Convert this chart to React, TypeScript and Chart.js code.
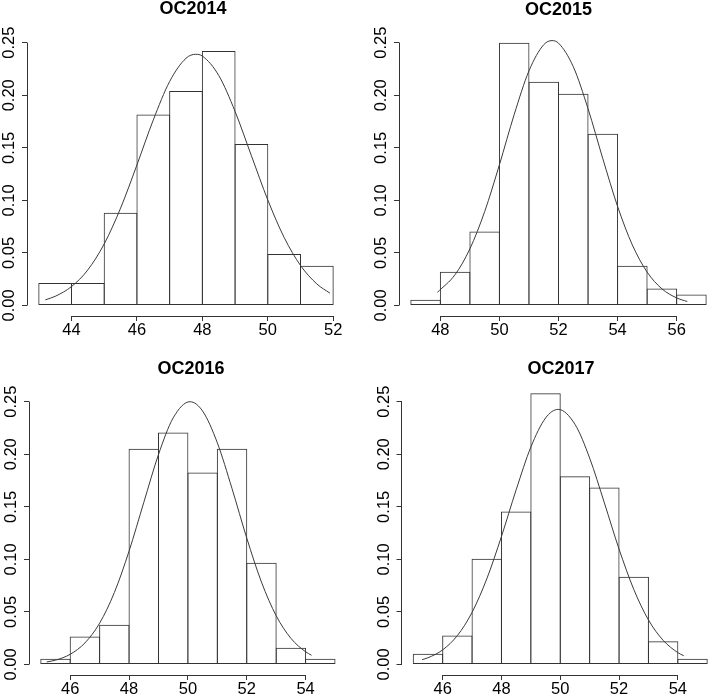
import React, { useEffect, useRef } from "react";
import { Chart, registerables } from "chart.js";

Chart.register(...registerables);

const FONT = "'Liberation Sans', Arial, Helvetica, sans-serif";
const AXIS_COLOR = "#333333";
const BAR_COLOR = "#333333";
const CURVE_COLOR = "#3a3a3a";

// ---- shared y axis ----
const yTicks = [0, 0.05, 0.1, 0.15, 0.2, 0.25];
const yTickLabels = ["0.00", "0.05", "0.10", "0.15", "0.20", "0.25"];

// ---- OC2014 ----
const oc2014Breaks = [43, 44, 45, 46, 47, 48, 49, 50, 51, 52];
const oc2014Density = [0.0213, 0.0213, 0.0883, 0.1817, 0.204, 0.242, 0.1537, 0.049, 0.0378];
const oc2014CurveX = [43.2, 43.5, 44, 44.5, 45, 45.5, 46, 46.5, 47, 47.5, 47.8, 48, 48.5, 49, 49.5, 50, 50.5, 51, 51.5, 51.9];
const oc2014CurveY = [0.0054, 0.0087, 0.018, 0.0339, 0.0586, 0.0926, 0.1337, 0.1765, 0.2131, 0.2352, 0.239, 0.2373, 0.2189, 0.1846, 0.1424, 0.1004, 0.0647, 0.0381, 0.0205, 0.0117];
const oc2014XTicks = [44, 46, 48, 50, 52];

// ---- OC2015 ----
const oc2015Breaks = [47, 48, 49, 50, 51, 52, 53, 54, 55, 56, 57];
const oc2015Density = [0.0054, 0.032, 0.0705, 0.25, 0.2128, 0.2014, 0.1633, 0.0378, 0.0162, 0.0105];
const oc2015CurveX = [47.9, 48.5, 49, 49.5, 50, 50.5, 51, 51.5, 51.78, 52, 52.5, 53, 53.5, 54, 54.5, 55, 55.5, 56, 56.36];
const oc2015CurveY = [0.0125, 0.0294, 0.0539, 0.0893, 0.1339, 0.1817, 0.2232, 0.2481, 0.252, 0.2496, 0.2272, 0.1872, 0.1397, 0.0943, 0.0576, 0.0318, 0.0159, 0.0072, 0.0038];
const oc2015XTicks = [48, 50, 52, 54, 56];

// ---- OC2016 ----
const oc2016Breaks = [45, 46, 47, 48, 49, 50, 51, 52, 53, 54, 55];
const oc2016Density = [0.0054, 0.0267, 0.0378, 0.2052, 0.2208, 0.1827, 0.2052, 0.0969, 0.0159, 0.0054];
const oc2016CurveX = [45.2, 45.5, 46, 46.5, 47, 47.5, 48, 48.5, 49, 49.5, 50.07, 50.5, 51, 51.5, 52, 52.5, 53, 53.5, 54, 54.2];
const oc2016CurveY = [0.0024, 0.0041, 0.0097, 0.0205, 0.0393, 0.0684, 0.1078, 0.1541, 0.1997, 0.2346, 0.25, 0.2411, 0.2109, 0.1673, 0.1203, 0.0784, 0.0464, 0.0249, 0.0121, 0.0088];
const oc2016XTicks = [46, 48, 50, 52, 54];

// ---- OC2017 ----
const oc2017Breaks = [45, 46, 47, 48, 49, 50, 51, 52, 53, 54, 55];
const oc2017Density = [0.0102, 0.0276, 0.1007, 0.1455, 0.258, 0.1792, 0.1684, 0.0835, 0.0222, 0.0054];
const oc2017CurveX = [45.3, 45.5, 46, 46.5, 47, 47.5, 48, 48.5, 49, 49.5, 49.93, 50.5, 51, 51.5, 52, 52.5, 53, 53.5, 54, 54.2];
const oc2017CurveY = [0.0046, 0.0064, 0.0139, 0.0275, 0.0496, 0.0814, 0.1218, 0.1662, 0.2068, 0.2345, 0.2427, 0.2285, 0.1964, 0.1538, 0.1098, 0.0715, 0.0424, 0.023, 0.0113, 0.0083];
const oc2017XTicks = [46, 48, 50, 52, 54];

type Layout = {
  left: number; top: number; width: number; height: number;
  yW: number; rW: number; xH: number; titlePadBottom: number;
};

type Spec = {
  title: string; breaks: number[]; density: number[];
  curveX: number[]; curveY: number[]; xTicks: number[]; layout: Layout;
};

const panels: Spec[] = [
  { title: "OC2014", breaks: oc2014Breaks, density: oc2014Density, curveX: oc2014CurveX, curveY: oc2014CurveY, xTicks: oc2014XTicks,
    layout: { left: 0, top: -2, width: 386, height: 348, yW: 27, rW: 41, xH: 30, titlePadBottom: 12.6 } },
  { title: "OC2015", breaks: oc2015Breaks, density: oc2015Density, curveX: oc2015CurveX, curveY: oc2015CurveY, xTicks: oc2015XTicks,
    layout: { left: 370, top: -1, width: 377, height: 347, yW: 29, rW: 29, xH: 30, titlePadBottom: 11.6 } },
  { title: "OC2016", breaks: oc2016Breaks, density: oc2016Density, curveX: oc2016CurveX, curveY: oc2016CurveY, xTicks: oc2016XTicks,
    layout: { left: 0, top: 358, width: 382, height: 347, yW: 29, rW: 35.2, xH: 30, titlePadBottom: 11.6 } },
  { title: "OC2017", breaks: oc2017Breaks, density: oc2017Density, curveX: oc2017CurveX, curveY: oc2017CurveY, xTicks: oc2017XTicks,
    layout: { left: 372, top: 358, width: 378, height: 347, yW: 29.5, rW: 31, xH: 30, titlePadBottom: 11.6 } },
];

const alignPx = (p: number) => Math.round(p - 0.5) + 0.5;

const rAxisPlugin = {
  id: "rAxis",
  afterDraw(chart: any) {
    const ctx = chart.ctx;
    const xs = chart.scales.x;
    const ys = chart.scales.y;
    const ca = chart.chartArea;
    ctx.save();
    ctx.strokeStyle = AXIS_COLOR;
    ctx.lineWidth = 1;
    const xt = xs.ticks;
    const xa = alignPx(xs.getPixelForValue(xt[0].value));
    const xb = alignPx(xs.getPixelForValue(xt[xt.length - 1].value));
    const yy = alignPx(ca.bottom);
    ctx.beginPath();
    ctx.moveTo(xa, yy);
    ctx.lineTo(xb, yy);
    ctx.stroke();
    const yt = ys.ticks;
    const ya = alignPx(ys.getPixelForValue(yt[0].value));
    const yb = alignPx(ys.getPixelForValue(yt[yt.length - 1].value));
    const xx = alignPx(ca.left);
    ctx.beginPath();
    ctx.moveTo(xx, ya);
    ctx.lineTo(xx, yb);
    ctx.stroke();
    ctx.restore();
  },
};

function Panel({ spec }: { spec: Spec }) {
  const ref = useRef<HTMLCanvasElement>(null);
  useEffect(() => {
    const { breaks, density, curveX, curveY, xTicks, layout } = spec;
    const b0 = breaks[0];
    const bn = breaks[breaks.length - 1];
    const span = bn - b0;
    const xMin = b0 - 0.04 * span;
    const xMax = bn + 0.04 * span;
    const plotW = layout.width - layout.yW - layout.rW;
    const unitPx = plotW / (xMax - xMin);
    const barPct = 1 + 1 / unitPx;

    const barData = density.map((d, i) => ({ x: (breaks[i] + breaks[i + 1]) / 2, y: d }));
    const curveData = curveX.map((x, i) => ({ x, y: curveY[i] }));

    const chart = new Chart(ref.current as HTMLCanvasElement, {
      type: "bar",
      data: {
        datasets: [
          {
            type: "line",
            data: curveData,
            borderColor: CURVE_COLOR,
            borderWidth: 1,
            pointRadius: 0,
            fill: false,
            cubicInterpolationMode: "monotone",
            order: 0,
          } as any,
          {
            type: "bar",
            data: barData,
            backgroundColor: "rgba(0,0,0,0)",
            borderColor: BAR_COLOR,
            borderWidth: 1,
            borderSkipped: false,
            inflateAmount: 0,
            barPercentage: barPct,
            categoryPercentage: 1,
            order: 1,
          } as any,
        ],
      },
      options: {
        responsive: false,
        animation: false,
        events: [],
        layout: { padding: 0 },
        plugins: {
          legend: { display: false },
          tooltip: { enabled: false },
          title: {
            display: true,
            text: spec.title,
            color: "#000000",
            font: { family: FONT, size: 18, weight: "bold", lineHeight: 1.2 },
            padding: { top: 0, bottom: layout.titlePadBottom },
          },
        },
        scales: {
          x: {
            type: "linear",
            position: "bottom",
            min: xMin,
            max: xMax,
            offset: false,
            afterBuildTicks: (s: any) => { s.ticks = xTicks.map((v) => ({ value: v })); },
            afterFit: (s: any) => { s.height = layout.xH; },
            grid: { offset: false, drawOnChartArea: false, drawTicks: true, tickLength: 5, color: AXIS_COLOR, lineWidth: 1 },
            border: { display: false },
            ticks: {
              autoSkip: false, minRotation: 0, maxRotation: 0, padding: 0,
              color: "#000000", font: { family: FONT, size: 16.5 },
              callback: (v: any) => String(v),
            },
          },
          y: {
            type: "linear",
            position: "left",
            min: -0.01,
            max: 0.26,
            afterBuildTicks: (s: any) => { s.ticks = yTicks.map((v) => ({ value: v })); },
            afterFit: (s: any) => { s.width = layout.yW; },
            grid: { drawOnChartArea: false, drawTicks: true, tickLength: 5, color: AXIS_COLOR, lineWidth: 1 },
            border: { display: false },
            ticks: {
              autoSkip: false, minRotation: 90, maxRotation: 90, crossAlign: "center", padding: -3.8,
              color: "#000000", font: { family: FONT, size: 16.5 },
              callback: (_v: any, i: number) => yTickLabels[i],
            },
          },
          yr: {
            type: "linear",
            position: "right",
            display: true,
            afterFit: (s: any) => { s.width = layout.rW; },
            grid: { display: false, drawTicks: false },
            border: { display: false },
            ticks: { display: false },
          },
        },
      } as any,
      plugins: [rAxisPlugin],
    });
    return () => chart.destroy();
  }, [spec]);

  const l = spec.layout;
  return (
    <canvas
      ref={ref}
      width={l.width}
      height={l.height}
      style={{ position: "absolute", left: l.left, top: l.top, width: l.width, height: l.height }}
    />
  );
}

export default function App() {
  return (
    <div
      style={{
        position: "absolute",
        left: 0,
        top: 0,
        width: 709,
        height: 696,
        overflow: "hidden",
        background: "#ffffff",
      }}
    >
      {panels.map((p) => (
        <Panel key={p.title} spec={p} />
      ))}
    </div>
  );
}
